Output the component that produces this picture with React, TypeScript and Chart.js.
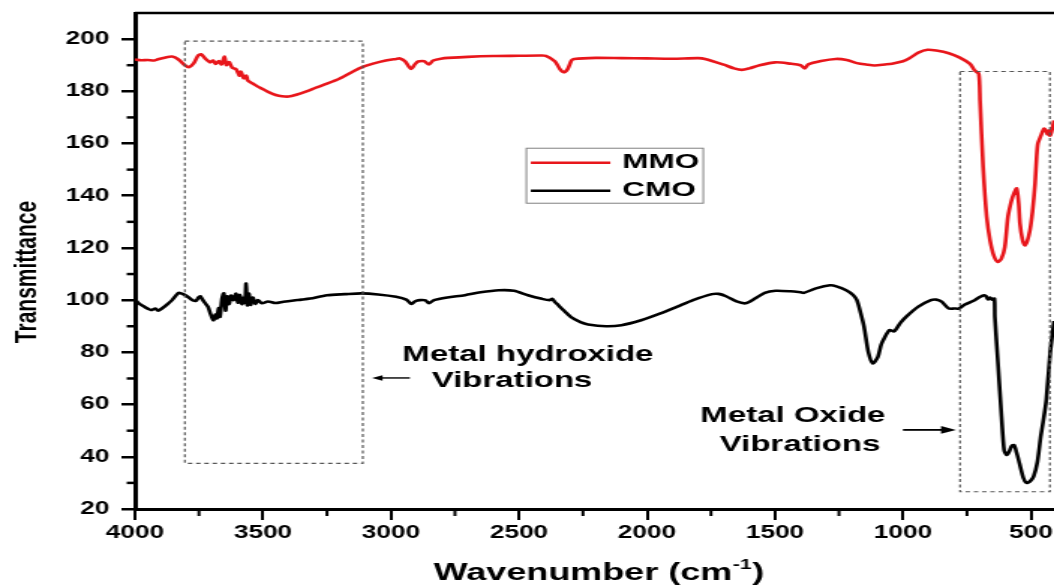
import React, { useEffect, useRef } from 'react';
import { Chart, registerables } from 'chart.js';

Chart.register(...registerables);

// ---------------- data ----------------
const mmoWavenumber = [
  4000, 3975, 3950, 3925, 3910, 3880, 3855, 3830, 3805, 3790,
  3770, 3755, 3742, 3725, 3707, 3695, 3685, 3672, 3662, 3650,
  3643, 3632, 3620, 3605, 3592, 3586, 3575, 3565, 3559, 3540,
  3520, 3504, 3480, 3450, 3425, 3400, 3370, 3330, 3290, 3250,
  3200, 3150, 3115, 3070, 3020, 2980, 2965, 2945, 2922, 2905,
  2894, 2870, 2852, 2835, 2800, 2777, 2700, 2600, 2500, 2418,
  2395, 2360, 2340, 2326, 2310, 2295, 2285, 2200, 2100, 2000,
  1900, 1800, 1773, 1700, 1660, 1629, 1600, 1560, 1498, 1440,
  1400, 1383, 1370, 1320, 1263, 1220, 1180, 1140, 1111, 1070,
  1043, 1000, 973, 940, 904, 870, 821, 780, 738, 720,
  704, 699, 687, 673, 660, 645, 629, 615, 602, 590,
  576, 566, 556, 548, 543, 534, 524, 515, 504, 494,
  484, 478, 473, 462, 449, 440, 435, 430, 426, 420,
  410,
];
const mmoTransmittance = [
  192.2, 191.9, 192.0, 191.8, 192.3, 193.0, 193.3, 192.2, 190.0, 189.2,
  190.8, 193.5, 194.2, 192.5, 191.1, 191.8, 190.5, 191.6, 190.3, 193.3,
  190.0, 191.2, 189.0, 188.5, 186.0, 187.5, 185.0, 186.0, 184.1, 183.0,
  181.8, 181.0, 179.8, 178.6, 178.1, 178.0, 178.7, 180.0, 181.5, 182.9,
  184.9, 187.5, 189.2, 190.6, 191.8, 192.4, 192.6, 191.5, 188.6, 190.5,
  191.4, 191.5, 190.3, 191.8, 192.6, 192.8, 193.2, 193.5, 193.6, 193.7,
  193.6, 191.5, 188.5, 187.3, 188.5, 191.8, 192.4, 192.8, 192.7, 192.6,
  192.5, 192.7, 192.4, 190.2, 188.8, 188.2, 188.8, 190.0, 191.1, 190.6,
  190.0, 188.8, 190.3, 191.6, 192.4, 192.0, 190.8, 190.2, 189.9, 190.3,
  190.6, 191.5, 192.8, 194.8, 195.9, 195.6, 194.6, 193.0, 190.5, 188.0,
  186.7, 176.5, 151.0, 131.9, 123.0, 117.0, 114.6, 116.0, 120.4, 131.9,
  138.2, 141.0, 142.8, 137.0, 129.4, 123.5, 121.0, 122.5, 126.8, 134.0,
  144.7, 155.0, 160.0, 162.8, 165.7, 164.5, 163.5, 165.0, 163.0, 164.5,
  168.8,
];

const cmoWavenumber = [
  4000, 3985, 3962, 3945, 3935, 3920, 3910, 3895, 3875, 3855,
  3840, 3828, 3812, 3794, 3775, 3762, 3752, 3745, 3738, 3727,
  3715, 3705, 3697, 3693, 3686, 3680, 3673, 3668, 3660, 3653,
  3646, 3640, 3632, 3625, 3615, 3605, 3598, 3590, 3582, 3575,
  3570, 3566, 3561, 3555, 3548, 3540, 3530, 3520, 3504, 3480,
  3451, 3420, 3380, 3350, 3316, 3250, 3180, 3115, 3050, 2980,
  2940, 2920, 2905, 2887, 2865, 2852, 2832, 2780, 2711, 2650,
  2578, 2520, 2465, 2410, 2381, 2370, 2360, 2354, 2330, 2298,
  2260, 2230, 2160, 2100, 2023, 1950, 1884, 1820, 1746, 1720,
  1691, 1650, 1615, 1580, 1540, 1498, 1440, 1400, 1387, 1340,
  1285, 1260, 1222, 1195, 1180, 1165, 1152, 1135, 1118, 1098,
  1085, 1070, 1055, 1049, 1035, 1010, 988, 940, 891, 870,
  849, 821, 800, 781, 760, 720, 700, 683, 675, 668,
  660, 652, 643, 641, 628, 615, 605, 595, 585, 575,
  566, 556, 545, 530, 518, 505, 490, 475, 462, 450,
  440, 425, 410,
];
const cmoTransmittance = [
  100.3, 98.8, 97.4, 96.5, 96.2, 96.8, 96.0, 96.8, 98.3, 100.0,
  101.8, 102.8, 102.3, 101.3, 100.0, 99.7, 101.0, 101.5, 100.5, 99.0,
  97.5, 94.8, 92.8, 92.3, 94.5, 93.0, 97.0, 93.6, 100.5, 102.6,
  96.0, 101.5, 98.5, 101.8, 100.0, 102.5, 99.0, 102.0, 98.5, 101.0,
  99.0, 106.4, 98.0, 102.5, 98.2, 101.0, 98.6, 100.0, 98.8, 99.5,
  98.9, 99.4, 99.9, 100.2, 100.6, 101.9, 102.3, 102.6, 102.2, 101.3,
  100.2, 98.5, 99.6, 100.0, 99.9, 98.8, 100.0, 101.0, 101.9, 103.0,
  103.8, 103.6, 101.9, 100.5, 100.0, 100.5, 99.3, 98.8, 96.5, 93.6,
  91.6, 90.7, 90.0, 90.4, 92.3, 94.8, 97.4, 100.0, 102.3, 102.4,
  101.5, 99.5, 98.8, 100.5, 102.8, 103.6, 103.4, 103.0, 102.8, 104.5,
  105.7, 105.3, 103.8, 102.0, 100.0, 95.0, 89.8, 80.0, 75.8, 78.3,
  83.0, 86.0, 88.3, 88.5, 88.0, 91.3, 93.6, 97.5, 100.0, 100.2,
  99.4, 96.8, 96.8, 96.8, 98.2, 100.0, 101.2, 101.9, 101.5, 100.3,
  101.0, 100.2, 100.6, 93.6, 74.5, 55.4, 42.6, 40.7, 42.0, 44.2,
  44.5, 41.5, 37.5, 32.0, 30.0, 30.5, 32.4, 38.0, 47.7, 55.0,
  62.0, 80.0, 92.0,
];

const seriesLabels = ['MMO', 'CMO'];
const xMajorTicks = [4000, 3500, 3000, 2500, 2000, 1500, 1000, 500];
const xMinorTicks = [3750, 3250, 2750, 2250, 1750, 1250, 750];
const yMajorTicks = [20, 40, 60, 80, 100, 120, 140, 160, 180, 200];
const yMinorTicks = [30, 50, 70, 90, 110, 130, 150, 170, 190];
const xAxisTitle = 'Wavenumber (cm';
const xAxisTitleSup = '-1';
const yAxisTitle = 'Transmittance';
const hydroxideLabel = ['Metal hydroxide', 'Vibrations'];
const oxideLabel = ['Metal Oxide', 'Vibrations'];

// ---------------- layout / style (logical, pre-stretch) ----------------
const LOGICAL_W = 703;
const LOGICAL_H = 587;
const STRETCH = 1054 / LOGICAL_W;
const FONT = '"Liberation Sans", Arial, Helvetica, sans-serif';
const RED = '#e8161b';

const boxes = [
  { x1: 3805, x2: 3110, y1: 199.2, y2: 37.5 },
  { x1: 777, x2: 426, y1: 187.6, y2: 26.6 },
];
const textItems = [
  { text: hydroxideLabel[0], x: 2465, y: 79.2 },
  { text: hydroxideLabel[1], x: 2527, y: 69.0 },
  { text: oxideLabel[0], x: 1430, y: 55.6 },
  { text: oxideLabel[1], x: 1402, y: 44.6 },
];
const arrows = [
  { from: 2926, to: 3074, y: 70.2, lw: 1.4, head: 7, half: 2.8 },
  { from: 1000, to: 793, y: 50.3, lw: 1.8, head: 10, half: 3.8 },
];

const decorPlugin = {
  id: 'decor',
  afterDatasetsDraw(chart: any) {
    const { ctx, chartArea: ca, scales } = chart;
    const xs = scales.x;
    const ys = scales.y;
    ctx.save();

    // top frame line
    ctx.strokeStyle = '#000';
    ctx.lineWidth = 2.5;
    ctx.beginPath();
    ctx.moveTo(ca.left, ca.top);
    ctx.lineTo(ca.right, ca.top);
    ctx.stroke();

    // minor ticks
    ctx.lineWidth = 2;
    xMinorTicks.forEach((v) => {
      const px = xs.getPixelForValue(v);
      ctx.beginPath();
      ctx.moveTo(px, ca.bottom);
      ctx.lineTo(px, ca.bottom + 7);
      ctx.stroke();
    });
    ctx.lineWidth = 2.5;
    yMinorTicks.forEach((v) => {
      const py = ys.getPixelForValue(v);
      ctx.beginPath();
      ctx.moveTo(ca.left - 5.5, py);
      ctx.lineTo(ca.left, py);
      ctx.stroke();
    });

    // dashed boxes
    ctx.setLineDash([3, 2.5]);
    ctx.lineWidth = 1.2;
    ctx.strokeStyle = '#555';
    boxes.forEach((b) => {
      const x1 = xs.getPixelForValue(b.x1);
      const x2 = xs.getPixelForValue(b.x2);
      const y1 = ys.getPixelForValue(b.y1);
      const y2 = ys.getPixelForValue(b.y2);
      ctx.strokeRect(x1, y1, x2 - x1, y2 - y1);
    });
    ctx.setLineDash([]);

    // annotation texts
    ctx.fillStyle = '#000';
    ctx.font = `bold 22px ${FONT}`;
    ctx.textAlign = 'center';
    ctx.textBaseline = 'middle';
    textItems.forEach((t) => {
      ctx.fillText(t.text, xs.getPixelForValue(t.x), ys.getPixelForValue(t.y));
    });

    // arrows
    arrows.forEach((a) => {
      const xf = xs.getPixelForValue(a.from);
      const xt = xs.getPixelForValue(a.to);
      const py = ys.getPixelForValue(a.y);
      const dir = xt > xf ? 1 : -1;
      ctx.strokeStyle = '#000';
      ctx.lineWidth = a.lw;
      ctx.beginPath();
      ctx.moveTo(xf, py);
      ctx.lineTo(xt - dir * a.head * 0.8, py);
      ctx.stroke();
      ctx.beginPath();
      ctx.moveTo(xt, py);
      ctx.lineTo(xt - dir * a.head, py - a.half);
      ctx.lineTo(xt - dir * a.head, py + a.half);
      ctx.closePath();
      ctx.fill();
    });

    // legend
    const lx = xs.getPixelForValue(2471);
    const ly = ys.getPixelForValue(158.2);
    const lw = 118;
    const lh = 55;
    ctx.strokeStyle = '#808080';
    ctx.lineWidth = 1;
    ctx.strokeRect(lx, ly, lw, lh);
    ctx.font = `bold 21px ${FONT}`;
    ctx.textAlign = 'left';
    ctx.textBaseline = 'middle';
    chart.data.datasets.forEach((ds: any, i: number) => {
      const rowY = ly + 14.5 + i * 28;
      ctx.strokeStyle = ds.borderColor;
      ctx.lineWidth = 2.5;
      ctx.beginPath();
      ctx.moveTo(lx + 3, rowY);
      ctx.lineTo(lx + 56, rowY);
      ctx.stroke();
      ctx.fillStyle = '#000';
      ctx.fillText(ds.label, lx + 64, rowY - 0.5);
    });

    ctx.restore();
  },
  afterDraw(chart: any) {
    const { ctx, chartArea: ca } = chart;
    ctx.save();
    ctx.fillStyle = '#000';
    // x title with superscript
    ctx.textBaseline = 'alphabetic';
    ctx.textAlign = 'left';
    const mainFont = `bold 24px ${FONT}`;
    const supFont = `bold 14px ${FONT}`;
    ctx.font = mainFont;
    const w1 = ctx.measureText(xAxisTitle).width;
    const w3 = ctx.measureText(')').width;
    ctx.font = supFont;
    const w2 = ctx.measureText(xAxisTitleSup).width;
    const total = w1 + w2 + w3 + 1;
    const cx = (ca.left + ca.right) / 2 + 3;
    const sx = cx - total / 2;
    const base = ca.bottom + 71;
    ctx.font = mainFont;
    ctx.fillText(xAxisTitle, sx, base);
    ctx.font = supFont;
    ctx.fillText(xAxisTitleSup, sx + w1 + 0.5, base - 11);
    ctx.font = mainFont;
    ctx.fillText(')', sx + w1 + w2 + 1, base);

    // y title
    ctx.font = `bold 21px ${FONT}`;
    ctx.textAlign = 'center';
    ctx.translate(24, 272);
    ctx.rotate(-Math.PI / 2);
    ctx.fillText(yAxisTitle, 0, 0);
    ctx.restore();
  },
};

export default function App() {
  const canvasRef = useRef<HTMLCanvasElement | null>(null);

  useEffect(() => {
    const canvas = canvasRef.current;
    if (!canvas) return;
    Chart.defaults.font.family = FONT;
    const chart = new Chart(canvas, {
      type: 'line',
      data: {
        datasets: [
          {
            label: seriesLabels[0],
            data: mmoWavenumber.map((x, i) => ({ x, y: mmoTransmittance[i] })),
            borderColor: RED,
            borderWidth: 2.6,
            pointRadius: 0,
            tension: 0.25,
            fill: false,
          },
          {
            label: seriesLabels[1],
            data: cmoWavenumber.map((x, i) => ({ x, y: cmoTransmittance[i] })),
            borderColor: '#000000',
            borderWidth: 2.6,
            pointRadius: 0,
            tension: 0.25,
            fill: false,
          },
        ],
      },
      options: {
        animation: false,
        responsive: false,
        devicePixelRatio: 1,
        events: [],
        layout: { padding: { top: 13, left: 0, right: 0, bottom: 0 } },
        plugins: {
          legend: { display: false },
          tooltip: { enabled: false },
        },
        scales: {
          x: {
            type: 'linear',
            reverse: true,
            min: 410,
            max: 4000,
            afterBuildTicks: (s: any) => {
              s.ticks = xMajorTicks.map((v) => ({ value: v }));
            },
            afterFit: (s: any) => {
              s.height = 78;
              s.paddingLeft = 0;
              s.paddingRight = 0;
            },
            grid: {
              drawOnChartArea: false,
              drawTicks: true,
              tickLength: 11,
              lineWidth: 2,
              color: '#000',
            },
            border: { display: true, width: 3, color: '#000' },
            ticks: {
              autoSkip: false,
              maxRotation: 0,
              padding: 3,
              color: '#000',
              font: { size: 17.5, weight: 'bold' },
              callback: (v: any) => String(v),
            },
          },
          y: {
            type: 'linear',
            min: 20,
            max: 210,
            afterBuildTicks: (s: any) => {
              s.ticks = yMajorTicks.map((v) => ({ value: v }));
            },
            afterFit: (s: any) => {
              s.width = 90;
              s.paddingTop = 0;
              s.paddingBottom = 0;
            },
            grid: {
              drawOnChartArea: false,
              drawTicks: true,
              tickLength: 9,
              lineWidth: 2.5,
              color: '#000',
            },
            border: { display: true, width: 3, color: '#000' },
            ticks: {
              autoSkip: false,
              padding: 8,
              color: '#000',
              font: { size: 17.5, weight: 'bold' },
              callback: (v: any) => String(v),
            },
          },
        },
      },
      plugins: [decorPlugin],
    } as any);
    return () => chart.destroy();
  }, []);

  return (
    <div
      style={{
        position: 'fixed',
        left: 0,
        top: 0,
        width: 1054,
        height: 587,
        overflow: 'hidden',
        background: '#fff',
      }}
    >
      <div
        style={{
          width: LOGICAL_W,
          height: LOGICAL_H,
          transform: `scaleX(${STRETCH})`,
          transformOrigin: '0 0',
        }}
      >
        <canvas
          ref={canvasRef}
          width={LOGICAL_W}
          height={LOGICAL_H}
          style={{ display: 'block' }}
        />
      </div>
    </div>
  );
}
